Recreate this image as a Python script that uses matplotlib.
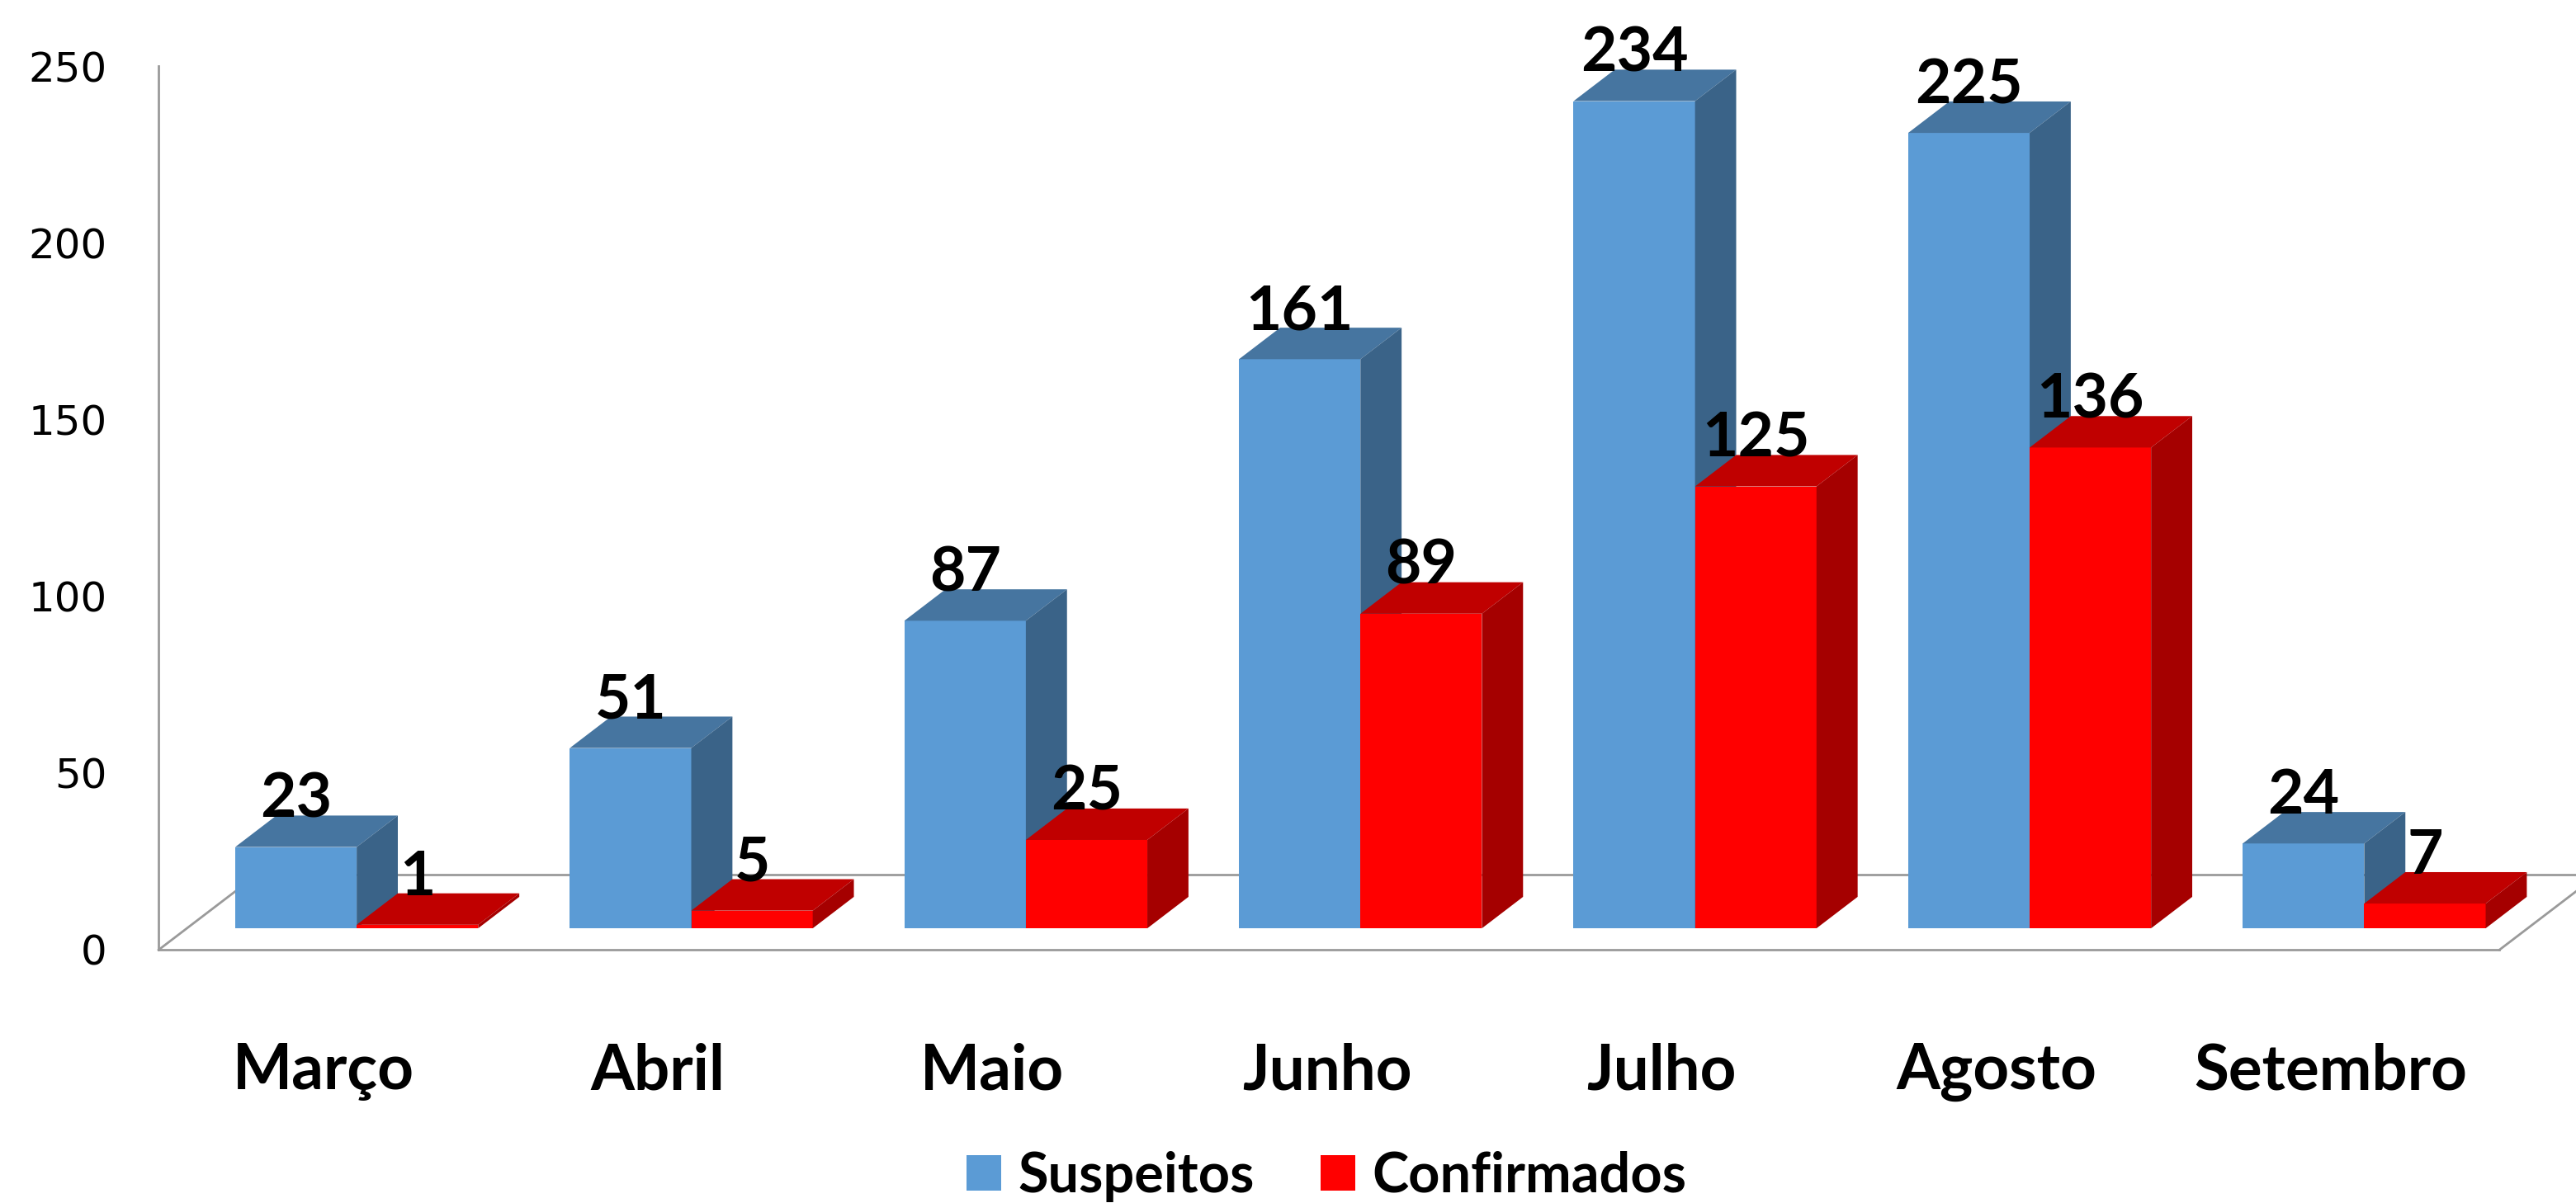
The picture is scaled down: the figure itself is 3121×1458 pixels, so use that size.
"""
Casos suspeitos e confirmados por mes - grafico de barras com efeito 3D
"""

import numpy as np
import matplotlib
matplotlib.use("Agg")
import matplotlib.pyplot as plt
from matplotlib.patches import Polygon, Patch

# Dados
meses = ['Março', 'Abril', 'Maio', 'Junho', 'Julho', 'Agosto', 'Setembro']
suspeitos = [23, 51, 87, 161, 234, 225, 24]
confirmados = [1, 5, 25, 89, 125, 136, 7]
series = ['Suspeitos', 'Confirmados']
y_ticks = [0, 50, 100, 150, 200, 250]

# Cores (frente, topo, lateral)
AZUL = ('#5B9BD5', '#4675A0', '#3A6388')
VERMELHO = ('#FF0000', '#C00000', '#A50000')
CINZA = '#9A9A9A'

# Geometria "3D" (em unidades de dados)
BAR_W = 0.363
DEPTH = (0.123, 8.9)            # deslocamento de profundidade das barras
FLOOR_FRONT = -6.1
FLOOR_DEPTH = (0.295, 21.3)
FLOOR_X = (-0.592, 6.404)

LABEL_FONT = ['Lato', 'DejaVu Sans']


def draw_bar(ax, x0, h, cores):
    """Barra com face frontal, topo e lateral."""
    ddx, ddy = DEPTH
    ax.bar(x0, h, width=BAR_W, align='edge', color=cores[0], zorder=3,
           linewidth=0)
    topo = [(x0, h), (x0 + BAR_W, h), (x0 + BAR_W + ddx, h + ddy),
            (x0 + ddx, h + ddy)]
    lado = [(x0 + BAR_W, 0), (x0 + BAR_W + ddx, ddy),
            (x0 + BAR_W + ddx, h + ddy), (x0 + BAR_W, h)]
    ax.add_patch(Polygon(topo, closed=True, facecolor=cores[1],
                         edgecolor='none', zorder=3))
    ax.add_patch(Polygon(lado, closed=True, facecolor=cores[2],
                         edgecolor='none', zorder=3))
    ax.text(x0 + BAR_W / 2, h + ddy - 0.5, f'{h}', ha='center',
            va='baseline', fontsize=54, fontweight='bold',
            family=LABEL_FONT, zorder=5)


fig = plt.figure(figsize=(31.21, 14.58), dpi=100)
ax = fig.add_axes([0, 0, 1, 1])
ax.set_xlim(-1.066, 6.633)
ax.set_ylim(-77.7, 262.6)
ax.axis('off')

# Piso
fx0, fx1 = FLOOR_X
fdx, fdy = FLOOR_DEPTH
yb = FLOOR_FRONT + fdy
ax.plot([fx0, fx1], [FLOOR_FRONT, FLOOR_FRONT], color=CINZA, lw=2, zorder=1)
ax.plot([fx0 + fdx, fx1 + fdx], [yb, yb], color=CINZA, lw=2, zorder=1)
ax.plot([fx0, fx0 + fdx], [FLOOR_FRONT, yb], color=CINZA, lw=2, zorder=1)
ax.plot([fx1, fx1 + fdx], [FLOOR_FRONT, yb], color=CINZA, lw=2, zorder=1)

# Barras
x = np.arange(len(meses))
for i in range(len(meses)):
    draw_bar(ax, x[i] - BAR_W, suspeitos[i], AZUL)
    draw_bar(ax, x[i], confirmados[i], VERMELHO)

# Rotulos das categorias
for i, m in enumerate(meses):
    ax.text(x[i] - 0.1, -45.5, m, ha='center', va='baseline', fontsize=55,
            fontweight='bold', family=LABEL_FONT)

# Eixo vertical (frente esquerda)
axy = fig.add_axes([192 / 3121, (1458 - 1151) / 1458, 0.001, 1071 / 1458])
axy.set_ylim(0, 250)
axy.set_yticks(y_ticks)
axy.set_xticks([])
axy.patch.set_alpha(0)
for s in ['top', 'right', 'bottom']:
    axy.spines[s].set_visible(False)
axy.spines['left'].set_color(CINZA)
axy.spines['left'].set_linewidth(2)
axy.tick_params(axis='y', length=0, pad=45, labelsize=36)
for t in axy.get_yticklabels():
    t.set_family('DejaVu Sans')

# Legenda
handles = [Patch(facecolor=AZUL[0], label=series[0]),
           Patch(facecolor=VERMELHO[0], label=series[1])]
fig.legend(handles=handles, loc='center', bbox_to_anchor=(0.515, 0.022),
           ncol=2, frameon=False, handlelength=0.63, handleheight=0.63,
           handletextpad=0.31, columnspacing=1.2,
           prop={'family': LABEL_FONT, 'weight': 'bold', 'size': 48})

fig.savefig('out.png', dpi=100)
